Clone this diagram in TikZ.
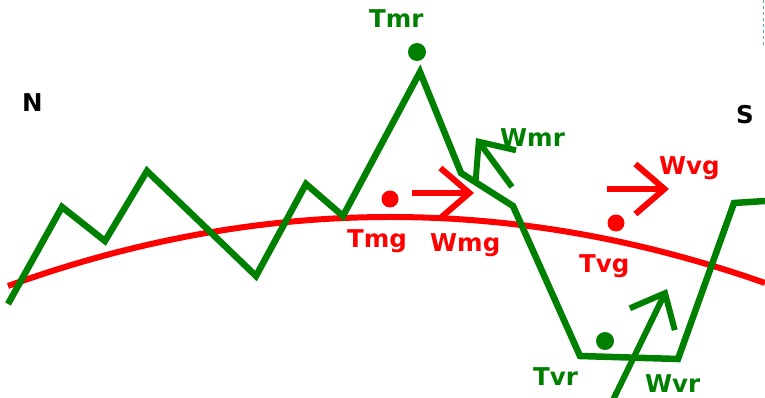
\documentclass[tikz,border=0pt]{standalone}
\usepackage{fontspec}
\setmainfont{DejaVu Sans}
\usetikzlibrary{arrows.meta}
\definecolor{gr}{RGB}{0,128,0}
\definecolor{rd}{RGB}{255,0,0}
\definecolor{tl}{RGB}{80,170,170}
\tikzset{
  lbl/.style={font=\fontsize{24.5}{26}\selectfont\bfseries, inner sep=0pt, anchor=base west},
  dot/.style={circle, fill=#1, inner sep=0pt, minimum size=18pt},
  thick line/.style={line width=6.5pt, line join=miter},
  vecarrow/.style={line width=6pt, -{Straight Barb[length=29pt,width=50pt]}}
}
\begin{document}
\begin{tikzpicture}[x=1pt,y=-1pt]
\useasboundingbox (0,0) rectangle (765,398);
% red curve
\draw[rd, line width=6pt] (8,286) .. controls (260,195) and (512,194) .. (765,283);
% green profile
\draw[gr, thick line] (8,304) -- (62,207) -- (105,241) -- (147,171) -- (256,276) -- (306,184) -- (343,216) -- (420,72) -- (461,173) -- (513,206) -- (580,356) -- (678,359) -- (734,203) -- (765,201);
% dashed line top right
\draw[tl, dashed, line width=0.8pt] (763,0) -- (763,45);
% dots
\node[dot=gr] (dTmr) at (417,52) {};
\node[dot=gr] (dTvr) at (605,341) {};
\node[dot=rd, minimum size=17pt] (dTmg) at (390,199) {};
\node[dot=rd, minimum size=17pt] (dTvg) at (616,223) {};
% arrows
\coordinate (wmg0) at (412,193); \coordinate (wmg1) at (474,193);
\coordinate (wvg0) at (607,189); \coordinate (wvg1) at (669,189);
\coordinate (wmr0) at (512,187); \coordinate (wmr1) at (476,138);
\coordinate (wvr0) at (613,400); \coordinate (wvr1) at (667,289);
\draw[rd, vecarrow] (wmg0) -- (wmg1);
\draw[rd, vecarrow] (wvg0) -- (wvg1);
\draw[gr, vecarrow] (wmr0) -- (wmr1);
\draw[gr, vecarrow] (wvr0) -- (wvr1);
% labels
\node[lbl] (N) at (22,112) {N};
\node[lbl] (S) at (736,124) {S};
\node[lbl, text=gr] (Tmr) at (369,28) {Tmr};
\node[lbl, text=gr] (Wmr) at (500,147) {Wmr};
\node[lbl, text=rd] (Wvg) at (659,175) {Wvg};
\node[lbl, text=rd] (Tmg) at (347,247) {Tmg};
\node[lbl, text=rd] (Wmg) at (430,251) {Wmg};
\node[lbl, text=rd] (Tvg) at (579,272) {Tvg};
\node[lbl, text=gr] (Tvr) at (533,385) {Tvr};
\node[lbl, text=gr] (Wvr) at (645,392) {Wvr};
\end{tikzpicture}
\end{document}
